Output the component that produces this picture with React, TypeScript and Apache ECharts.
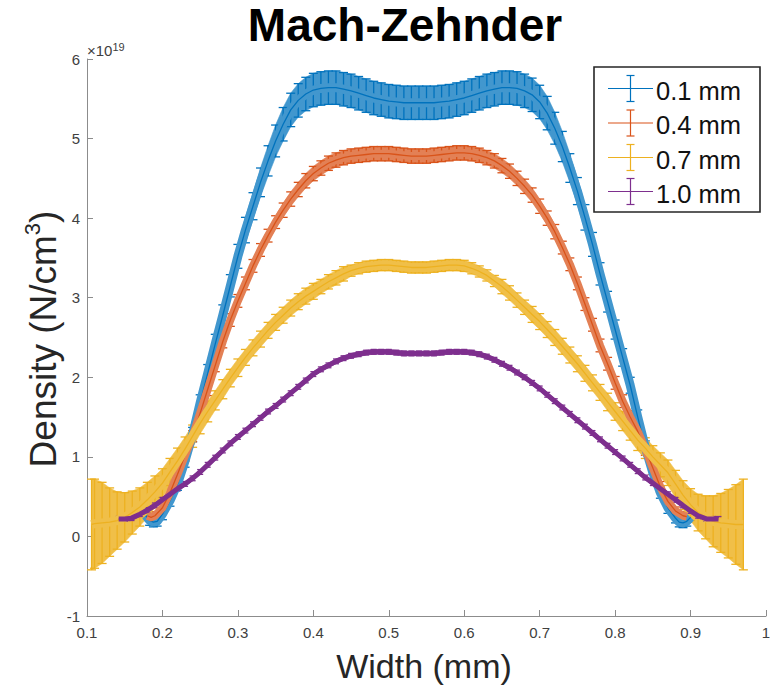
import React, { useEffect, useRef } from 'react';
import * as echarts from 'echarts';

const FONT = '"Liberation Sans", Arial, Helvetica, sans-serif';

const titleText = 'Mach-Zehnder';
const xAxisTitle = 'Width (mm)';
const legendNames = ['0.1 mm', '0.4 mm', '0.7 mm', '1.0 mm'];
const colors = ['#0072BD', '#D95319', '#EDB120', '#7E2F8E'];

const xMin = 0.1, xMax = 1, xStep = 0.1;
const yMin = -1, yMax = 6, yStep = 1;

// ---- 0.1 mm (blue) ----
const blueX = [0.178, 0.183, 0.188, 0.193,
  0.20, 0.21, 0.22, 0.23, 0.24, 0.25, 0.26, 0.27, 0.28, 0.29, 0.30, 0.31, 0.32, 0.33, 0.34, 0.35,
  0.36, 0.37, 0.38, 0.39, 0.40, 0.41, 0.42, 0.43, 0.44, 0.45, 0.46, 0.47, 0.48, 0.49, 0.50, 0.51,
  0.52, 0.53, 0.54, 0.55, 0.56, 0.57, 0.58, 0.59, 0.60, 0.61, 0.62, 0.63, 0.64, 0.65, 0.66, 0.67,
  0.68, 0.69, 0.70, 0.71, 0.72, 0.73, 0.74, 0.75, 0.76, 0.77, 0.78, 0.79, 0.80, 0.81, 0.82, 0.83,
  0.84, 0.85, 0.86, 0.87, 0.88, 0.885, 0.89, 0.895, 0.90];
const blueY = [0.26, 0.20, 0.18, 0.19,
  0.28, 0.45, 0.66, 0.95, 1.28, 1.68, 2.05, 2.42, 2.78, 3.15, 3.52, 3.85, 4.15, 4.45, 4.72, 4.97,
  5.18, 5.36, 5.48, 5.56, 5.61, 5.63, 5.64, 5.64, 5.62, 5.60, 5.57, 5.54, 5.51, 5.49, 5.47, 5.46,
  5.45, 5.45, 5.45, 5.45, 5.45, 5.46, 5.47, 5.49, 5.51, 5.54, 5.57, 5.60, 5.62, 5.64, 5.64, 5.63,
  5.60, 5.55, 5.46, 5.32, 5.13, 4.90, 4.63, 4.34, 4.01, 3.67, 3.30, 2.95, 2.60, 2.25, 1.90, 1.50,
  1.12, 0.80, 0.55, 0.36, 0.23, 0.18, 0.17, 0.19, 0.24];
const blueErr = [0.06, 0.06, 0.06, 0.06,
  0.07, 0.07, 0.08, 0.08, 0.09, 0.10, 0.11, 0.12, 0.13, 0.14, 0.15, 0.16, 0.17, 0.18, 0.19, 0.20,
  0.21, 0.21, 0.21, 0.21, 0.21, 0.21, 0.21, 0.21, 0.21, 0.21, 0.21, 0.21, 0.21, 0.21, 0.21, 0.21,
  0.21, 0.21, 0.21, 0.21, 0.21, 0.21, 0.21, 0.21, 0.21, 0.21, 0.21, 0.21, 0.21, 0.21, 0.21, 0.21,
  0.21, 0.21, 0.21, 0.21, 0.20, 0.19, 0.18, 0.17, 0.16, 0.15, 0.14, 0.13, 0.12, 0.11, 0.10, 0.09,
  0.08, 0.08, 0.07, 0.07, 0.06, 0.06, 0.06, 0.06, 0.06];

// ---- 0.4 mm (orange) ----
const orangeX = [0.18, 0.185, 0.19,
  0.20, 0.21, 0.22, 0.23, 0.24, 0.25, 0.26, 0.27, 0.28, 0.29, 0.30, 0.31, 0.32, 0.33, 0.34, 0.35,
  0.36, 0.37, 0.38, 0.39, 0.40, 0.41, 0.42, 0.43, 0.44, 0.45, 0.46, 0.47, 0.48, 0.49, 0.50, 0.51,
  0.52, 0.53, 0.54, 0.55, 0.56, 0.57, 0.58, 0.59, 0.60, 0.61, 0.62, 0.63, 0.64, 0.65, 0.66, 0.67,
  0.68, 0.69, 0.70, 0.71, 0.72, 0.73, 0.74, 0.75, 0.76, 0.77, 0.78, 0.79, 0.80, 0.81, 0.82, 0.83,
  0.84, 0.85, 0.86, 0.87, 0.88, 0.89, 0.895];
const orangeY = [0.26, 0.24, 0.26,
  0.36, 0.55, 0.78, 1.02, 1.26, 1.55, 1.85, 2.15, 2.45, 2.72, 2.96, 3.18, 3.40, 3.60, 3.78, 3.95,
  4.10, 4.24, 4.36, 4.47, 4.56, 4.63, 4.69, 4.73, 4.76, 4.78, 4.79, 4.80, 4.81, 4.81, 4.81, 4.80,
  4.79, 4.78, 4.78, 4.78, 4.79, 4.80, 4.81, 4.82, 4.82, 4.81, 4.79, 4.76, 4.72, 4.66, 4.59, 4.50,
  4.40, 4.29, 4.15, 4.00, 3.83, 3.63, 3.42, 3.18, 2.92, 2.66, 2.40, 2.17, 1.93, 1.70, 1.50, 1.32,
  1.10, 0.86, 0.62, 0.44, 0.32, 0.26, 0.25];
const orangeErr = [0.05, 0.05, 0.05,
  0.05, 0.06, 0.06, 0.07, 0.07, 0.08, 0.08, 0.08, 0.08, 0.08, 0.08, 0.08, 0.08, 0.08, 0.08, 0.08,
  0.09, 0.09, 0.09, 0.09, 0.09, 0.09, 0.09, 0.09, 0.09, 0.09, 0.09, 0.09, 0.09, 0.09, 0.09, 0.09,
  0.09, 0.09, 0.09, 0.09, 0.09, 0.09, 0.09, 0.09, 0.09, 0.09, 0.09, 0.09, 0.09, 0.09, 0.09, 0.09,
  0.09, 0.09, 0.09, 0.09, 0.09, 0.08, 0.08, 0.08, 0.08, 0.08, 0.08, 0.08, 0.08, 0.08, 0.08, 0.08,
  0.08, 0.08, 0.07, 0.06, 0.05, 0.05, 0.05];

// ---- 0.7 mm (yellow) ----
const yellowX = [0.106,
  0.11, 0.12, 0.13, 0.14, 0.15, 0.16, 0.17, 0.18, 0.19, 0.20,
  0.21, 0.22, 0.23, 0.24, 0.25, 0.26, 0.27, 0.28, 0.29, 0.30,
  0.31, 0.32, 0.33, 0.34, 0.35, 0.36, 0.37, 0.38, 0.39, 0.40,
  0.41, 0.42, 0.43, 0.44, 0.45, 0.46, 0.47, 0.48, 0.49, 0.50,
  0.51, 0.52, 0.53, 0.54, 0.55, 0.56, 0.57, 0.58, 0.59, 0.60,
  0.61, 0.62, 0.63, 0.64, 0.65, 0.66, 0.67, 0.68, 0.69, 0.70,
  0.71, 0.72, 0.73, 0.74, 0.75, 0.76, 0.77, 0.78, 0.79, 0.80,
  0.81, 0.82, 0.83, 0.84, 0.85, 0.86, 0.87, 0.88, 0.89, 0.90,
  0.91, 0.92, 0.93, 0.94, 0.95, 0.96, 0.97];
const yellowY = [0.15,
  0.16, 0.17, 0.18, 0.20, 0.24, 0.30, 0.37, 0.46, 0.56, 0.67,
  0.81, 0.95, 1.10, 1.26, 1.42, 1.57, 1.71, 1.85, 1.99, 2.12,
  2.25, 2.37, 2.48, 2.59, 2.69, 2.78, 2.87, 2.95, 3.02, 3.08,
  3.14, 3.20, 3.25, 3.30, 3.34, 3.37, 3.39, 3.40, 3.41, 3.41,
  3.40, 3.39, 3.38, 3.38, 3.38, 3.39, 3.40, 3.41, 3.41, 3.40,
  3.37, 3.33, 3.28, 3.21, 3.14, 3.06, 2.97, 2.88, 2.79, 2.70,
  2.60, 2.50, 2.39, 2.28, 2.17, 2.05, 1.93, 1.81, 1.69, 1.57,
  1.45, 1.33, 1.21, 1.11, 1.00, 0.90, 0.80, 0.66, 0.52, 0.40,
  0.30, 0.24, 0.19, 0.17, 0.16, 0.15, 0.15];
const yellowErr = [0.57,
  0.56, 0.51, 0.43, 0.36, 0.31, 0.27, 0.24, 0.22, 0.20, 0.18,
  0.17, 0.16, 0.15, 0.14, 0.13, 0.13, 0.12, 0.12, 0.11, 0.11,
  0.10, 0.10, 0.10, 0.10, 0.10, 0.10, 0.10, 0.10, 0.10, 0.10,
  0.09, 0.09, 0.09, 0.09, 0.07, 0.07, 0.07, 0.07, 0.07, 0.07,
  0.07, 0.07, 0.07, 0.07, 0.07, 0.07, 0.07, 0.07, 0.07, 0.07,
  0.07, 0.07, 0.07, 0.07, 0.09, 0.09, 0.09, 0.09, 0.10, 0.10,
  0.10, 0.10, 0.10, 0.10, 0.10, 0.10, 0.10, 0.10, 0.11, 0.11,
  0.12, 0.12, 0.13, 0.13, 0.14, 0.15, 0.16, 0.17, 0.18, 0.20,
  0.23, 0.27, 0.32, 0.37, 0.43, 0.50, 0.57];

// ---- 1.0 mm (purple) ----
const purpleX = [0.142, 0.15, 0.159,
  0.17, 0.18, 0.19, 0.20, 0.21, 0.22, 0.23, 0.24, 0.25, 0.26, 0.27, 0.28, 0.29, 0.30,
  0.31, 0.32, 0.33, 0.34, 0.35, 0.36, 0.37, 0.38, 0.39, 0.40,
  0.41, 0.42, 0.43, 0.44, 0.45, 0.46, 0.47, 0.48, 0.49, 0.50,
  0.51, 0.52, 0.53, 0.54, 0.55, 0.56, 0.57, 0.58, 0.59, 0.60,
  0.61, 0.62, 0.63, 0.64, 0.65, 0.66, 0.67, 0.68, 0.69, 0.70,
  0.71, 0.72, 0.73, 0.74, 0.75, 0.76, 0.77, 0.78, 0.79, 0.80,
  0.81, 0.82, 0.83, 0.84, 0.85, 0.86, 0.87, 0.88, 0.89, 0.90,
  0.91, 0.921, 0.93, 0.937];
const purpleY = [0.22, 0.22, 0.23,
  0.28, 0.33, 0.39, 0.46, 0.53, 0.60, 0.66, 0.73, 0.81, 0.90, 0.99, 1.08, 1.17, 1.25,
  1.33, 1.41, 1.49, 1.57, 1.64, 1.72, 1.80, 1.88, 1.96, 2.04,
  2.10, 2.15, 2.20, 2.24, 2.27, 2.29, 2.31, 2.32, 2.32, 2.32,
  2.31, 2.30, 2.30, 2.30, 2.30, 2.30, 2.31, 2.32, 2.32, 2.32,
  2.31, 2.29, 2.26, 2.22, 2.17, 2.12, 2.06, 2.00, 1.93, 1.86,
  1.78, 1.70, 1.62, 1.54, 1.46, 1.38, 1.30, 1.22, 1.14, 1.06,
  0.98, 0.90, 0.82, 0.74, 0.67, 0.60, 0.53, 0.46, 0.39, 0.32,
  0.26, 0.22, 0.22, 0.22];
const purpleErr = [0.03, 0.03, 0.03,
  0.03, 0.03, 0.03, 0.03, 0.03, 0.03, 0.03, 0.03, 0.03, 0.03, 0.03, 0.03, 0.03, 0.03,
  0.03, 0.03, 0.03, 0.03, 0.03, 0.03, 0.03, 0.03, 0.03, 0.03,
  0.03, 0.03, 0.03, 0.03, 0.03, 0.03, 0.03, 0.03, 0.03, 0.03,
  0.03, 0.03, 0.03, 0.03, 0.03, 0.03, 0.03, 0.03, 0.03, 0.03,
  0.03, 0.03, 0.03, 0.03, 0.03, 0.03, 0.03, 0.03, 0.03, 0.03,
  0.03, 0.03, 0.03, 0.03, 0.03, 0.03, 0.03, 0.03, 0.03, 0.03,
  0.03, 0.03, 0.03, 0.03, 0.03, 0.03, 0.03, 0.03, 0.03, 0.03,
  0.03, 0.03, 0.03, 0.03];

function tint(hex: string, k: number) {
  const r = parseInt(hex.slice(1, 3), 16), g = parseInt(hex.slice(3, 5), 16), b = parseInt(hex.slice(5, 7), 16);
  const m = (c: number) => Math.round(c * k + 255 * (1 - k));
  return `rgb(${m(r)},${m(g)},${m(b)})`;
}

function errorSeries(name: string, xs: number[], ys: number[], es: number[], color: string,
  underWidth: number, shade: number, cap: number) {
  const n = xs.length;
  const light = tint(color, shade);
  const data = xs.map((x, i) => {
    const j = Math.min(i + 1, n - 1);
    return [x, ys[i], es[i], xs[j], ys[j], es[j]];
  });
  const under = {
    type: 'line',
    name,
    data: xs.map((x, i) => [x, ys[i]]),
    showSymbol: false,
    silent: true,
    lineStyle: { color: light, width: underWidth, cap: 'butt', join: 'round' },
    itemStyle: { color },
  };
  const band = {
    type: 'custom',
    name,
    data,
    encode: { x: 0, y: 1 },
    silent: true,
    renderItem: (params: any, api: any) => {
      const x = api.value(0), y = api.value(1), e = api.value(2);
      const t = api.coord([x, y + e]);
      const b = api.coord([x, y - e]);
      const children: any[] = [];
      if (params.dataIndex < n - 1) {
        const nx = api.value(3), ny = api.value(4), ne = api.value(5);
        const t2 = api.coord([nx, ny + ne]);
        const b2 = api.coord([nx, ny - ne]);
        children.push({
          type: 'polygon',
          shape: { points: [t, t2, b2, b] },
          style: { fill: light, stroke: light, lineWidth: 0.6 },
        });
      }
      const st = { stroke: color, lineWidth: 1.3 };
      children.push({ type: 'line', shape: { x1: t[0], y1: t[1], x2: b[0], y2: b[1] }, style: st });
      children.push({ type: 'line', shape: { x1: t[0] - cap, y1: t[1], x2: t[0] + cap, y2: t[1] }, style: st });
      children.push({ type: 'line', shape: { x1: b[0] - cap, y1: b[1], x2: b[0] + cap, y2: b[1] }, style: st });
      return { type: 'group', children };
    },
  };
  const line = {
    type: 'line',
    name,
    data: xs.map((x, i) => [x, ys[i]]),
    showSymbol: false,
    silent: true,
    lineStyle: { color, width: 1.3 },
    itemStyle: { color },
  };
  return [under, band, line];
}

function legendGraphic() {
  const left = 594, top = 67, w = 166, h = 145;
  const rows = [88.5, 123, 157.5, 191.5];
  const els: any[] = [
    { type: 'rect', shape: { x: left, y: top, width: w, height: h }, style: { fill: '#fff', stroke: '#262626', lineWidth: 1.6 }, z: 100 },
  ];
  rows.forEach((y, i) => {
    const c = colors[i];
    els.push({ type: 'line', shape: { x1: 608, y1: y, x2: 653, y2: y }, style: { stroke: c, lineWidth: 1.2 }, z: 101 });
    els.push({ type: 'line', shape: { x1: 630.5, y1: y - 13, x2: 630.5, y2: y + 13 }, style: { stroke: c, lineWidth: 1.2 }, z: 101 });
    els.push({ type: 'line', shape: { x1: 626.5, y1: y - 13, x2: 634.5, y2: y - 13 }, style: { stroke: c, lineWidth: 1.2 }, z: 101 });
    els.push({ type: 'line', shape: { x1: 626.5, y1: y + 13, x2: 634.5, y2: y + 13 }, style: { stroke: c, lineWidth: 1.2 }, z: 101 });
    els.push({
      type: 'text', x: 656, y: y + 2, z: 101,
      style: { text: legendNames[i], fontSize: 25.5, fontFamily: FONT, fill: '#111', align: 'left', verticalAlign: 'middle', textAlign: 'left', textVerticalAlign: 'middle' },
    });
  });
  return els;
}

export default function App() {
  const ref = useRef<HTMLDivElement>(null);
  useEffect(() => {
    const chart = echarts.init(ref.current!, null, { renderer: 'svg' });
    const series = [
      ...errorSeries(legendNames[0], blueX, blueY, blueErr, colors[0], 9, 0.74, 4.5),
      ...errorSeries(legendNames[1], orangeX, orangeY, orangeErr, colors[1], 8, 0.74, 4.5),
      ...errorSeries(legendNames[2], yellowX, yellowY, yellowErr, colors[2], 9, 0.82, 4.5),
      ...errorSeries(legendNames[3], purpleX, purpleY, purpleErr, colors[3], 5, 1, 3),
    ];
    const axisColor = '#8c8c8c';
    const labelColor = '#404040';
    chart.setOption({
      animation: false,
      backgroundColor: '#ffffff',
      grid: { left: 87, right: 8, top: 59, bottom: 72, containLabel: false },
      xAxis: {
        type: 'value', min: xMin, max: xMax, interval: xStep,
        axisLine: { show: true, onZero: false, lineStyle: { color: axisColor, width: 1 } },
        axisTick: { show: true, inside: true, length: 6, lineStyle: { color: axisColor } },
        axisLabel: { color: labelColor, fontSize: 15, fontFamily: FONT, margin: 9, formatter: (v: number) => String(Math.round(v * 10) / 10) },
        splitLine: { show: false },
      },
      yAxis: {
        type: 'value', min: yMin, max: yMax, interval: yStep,
        axisLine: { show: true, onZero: false, lineStyle: { color: axisColor, width: 1 } },
        axisTick: { show: true, inside: true, length: 6, lineStyle: { color: axisColor } },
        axisLabel: { color: labelColor, fontSize: 15, fontFamily: FONT, margin: 7, formatter: (v: number) => String(Math.round(v)) },
        splitLine: { show: false },
      },
      series,
      graphic: [
        {
          type: 'text', x: 405, y: 25,
          style: { text: titleText, fontSize: 46, fontWeight: 'bold', fontFamily: FONT, fill: '#000', align: 'center', verticalAlign: 'middle', textAlign: 'center', textVerticalAlign: 'middle' },
        },
        {
          type: 'text', x: 424, y: 666,
          style: { text: xAxisTitle, fontSize: 34, fontFamily: FONT, fill: '#262626', align: 'center', verticalAlign: 'middle', textAlign: 'center', textVerticalAlign: 'middle' },
        },
        {
          type: 'text', x: 43, y: 339, rotation: Math.PI / 2,
          style: {
            text: '{a|Density (N/cm}{s|3}{a|)}',
            fill: '#262626', align: 'center', verticalAlign: 'middle', textAlign: 'center', textVerticalAlign: 'middle',
            rich: {
              a: { fontSize: 37, fontFamily: FONT, fill: '#262626', color: '#262626', lineHeight: 44 },
              s: { fontSize: 22, fontFamily: FONT, fill: '#262626', color: '#262626', verticalAlign: 'top', lineHeight: 22 },
            },
          },
        },
        {
          type: 'text', x: 87, y: 50,
          style: {
            text: '{a|×10}{b|19}',
            fill: labelColor, align: 'left', verticalAlign: 'middle', textAlign: 'left', textVerticalAlign: 'middle',
            rich: {
              a: { fontSize: 15, fontFamily: FONT, fill: labelColor, color: labelColor, lineHeight: 18 },
              b: { fontSize: 11, fontFamily: FONT, fill: labelColor, color: labelColor, verticalAlign: 'top', lineHeight: 11 },
            },
          },
        },
        ...legendGraphic(),
      ],
    });
    return () => chart.dispose();
  }, []);
  return <div ref={ref} style={{ position: 'fixed', left: 0, top: 0, width: 774, height: 688 }} />;
}
